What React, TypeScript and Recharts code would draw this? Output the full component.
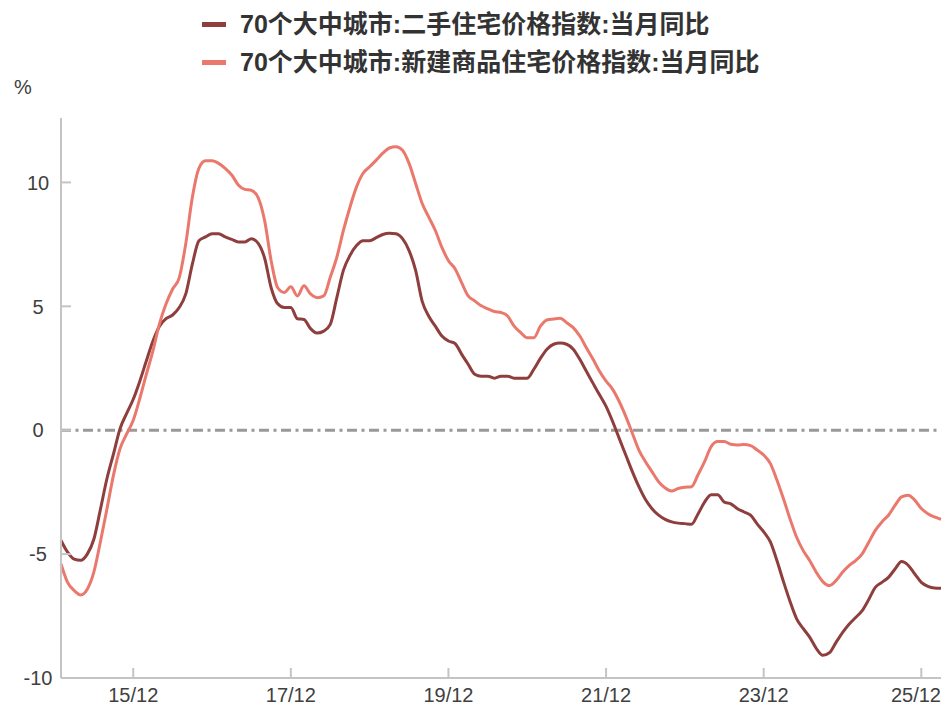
import React from "react";
import { Line, LineChart, ReferenceLine, XAxis, YAxis } from "recharts";

// 70城房价指数同比, 2015/01 - 2026/03, 月度
const months: string[] = Array.from({ length: 135 }, (_, i) => {
  const yy = 15 + Math.floor(i / 12);
  const mm = (i % 12) + 1;
  return `${yy}/${mm < 10 ? "0" + mm : mm}`;
});

const xTicks = ["15/12", "17/12", "19/12", "21/12", "23/12", "25/12"];
const yTicks = [-10, -5, 0, 5, 10];

const secondHand = [
  -4.45, -4.92, -5.2, -5.25, -5.0, -4.4, -3.2, -1.95, -0.95, 0.07, 0.68, 1.25,
  1.98, 2.8, 3.6, 4.2, 4.5, 4.65, 4.95, 5.5, 6.7, 7.65, 7.8, 7.93,
  7.93, 7.8, 7.7, 7.6, 7.6, 7.73, 7.55, 6.95, 5.75, 5.1, 4.95, 4.95,
  4.5, 4.47, 4.1, 3.92, 4.0, 4.27, 5.35, 6.45, 7.05, 7.45, 7.65, 7.65,
  7.77, 7.9, 7.95, 7.93, 7.73, 7.25, 6.45, 5.2, 4.6, 4.2, 3.8, 3.6,
  3.5, 3.07, 2.66, 2.26, 2.18, 2.18, 2.1, 2.18, 2.18, 2.1, 2.1, 2.1,
  2.46, 2.9, 3.27, 3.47, 3.52, 3.47, 3.27, 2.86, 2.38, 1.9, 1.43, 0.96,
  0.35, -0.33, -1.0, -1.67, -2.28, -2.8, -3.17, -3.43, -3.6, -3.7, -3.75, -3.77,
  -3.8, -3.38, -2.9, -2.6, -2.6, -2.9, -2.97, -3.17, -3.3, -3.43, -3.78, -4.1,
  -4.5, -5.25, -6.1, -6.9, -7.6, -8.0, -8.35, -8.8, -9.08, -8.98, -8.57, -8.17,
  -7.83, -7.56, -7.28, -6.83, -6.34, -6.14, -5.94, -5.6, -5.3, -5.45, -5.8, -6.14,
  -6.3, -6.37, -6.38,
];

const newBuild = [
  -5.4, -6.14, -6.47, -6.65, -6.42, -5.73, -4.5, -3.17, -1.8, -0.74, -0.15, 0.4,
  1.28, 2.26, 3.2, 4.3, 5.1, 5.7, 6.15, 7.53, 9.4, 10.57, 10.87, 10.87,
  10.77, 10.57, 10.3, 9.9, 9.72, 9.68, 9.4, 8.47, 6.84, 5.75, 5.56, 5.79,
  5.42, 5.83, 5.5, 5.35, 5.42, 6.17, 6.98, 8.06, 9.0, 9.82, 10.37, 10.63,
  10.9, 11.18, 11.39, 11.44, 11.3, 10.77, 9.96, 9.15, 8.6, 8.06, 7.38, 6.84,
  6.52, 5.96, 5.42, 5.22, 5.02, 4.9, 4.79, 4.75, 4.61, 4.2, 3.94, 3.73,
  3.73, 4.2, 4.45, 4.49, 4.52, 4.34, 4.14, 3.8, 3.33, 2.87, 2.38, 1.98,
  1.65, 1.16, 0.56, -0.12, -0.8, -1.27, -1.68, -2.08, -2.33, -2.45, -2.35, -2.3,
  -2.28, -1.8, -1.27, -0.66, -0.46, -0.46, -0.57, -0.6, -0.58, -0.62, -0.8, -1.0,
  -1.34, -2.0, -2.76, -3.57, -4.31, -4.85, -5.26, -5.73, -6.11, -6.27, -6.07, -5.73,
  -5.46, -5.26, -4.99, -4.52, -4.04, -3.7, -3.43, -3.03, -2.69, -2.62, -2.82, -3.16,
  -3.37, -3.5, -3.6,
];

const SERIES = [
  { key: "secondHand", name: "70个大中城市:二手住宅价格指数:当月同比", color: "#8e3f3d" },
  { key: "newBuild", name: "70个大中城市:新建商品住宅价格指数:当月同比", color: "#ea786d" },
];

const data = months.map((month, i) => ({
  month,
  secondHand: secondHand[i],
  newBuild: newBuild[i],
}));

const WIDTH = 943;
const HEIGHT = 706;
const PLOT_LEFT = 61;
const PLOT_TOP = 118;
const X_AXIS_HEIGHT = 28;
const PLOT_BOTTOM = HEIGHT - X_AXIS_HEIGHT;
const AXIS_COLOR = "#c4c4c4";
const TEXT_COLOR = "#404040";
const TICK_FONT = "'Liberation Sans', Arial, sans-serif";

function XTick({ x, payload }: any) {
  // keep the last label inside the frame
  const nearEdge = x + 25 > WIDTH - 1;
  return (
    <g>
      <line x1={x} x2={x} y1={PLOT_BOTTOM} y2={PLOT_BOTTOM - 10} stroke={AXIS_COLOR} strokeWidth={2} />
      <text
        x={nearEdge ? WIDTH - 2 : x}
        y={702}
        textAnchor={nearEdge ? "end" : "middle"}
        fontSize={20}
        fontFamily={TICK_FONT}
        fill={TEXT_COLOR}
      >
        {payload.value}
      </text>
    </g>
  );
}

function YTick({ y, payload }: any) {
  return (
    <g>
      <line x1={PLOT_LEFT} x2={PLOT_LEFT + 10} y1={y} y2={y} stroke={AXIS_COLOR} strokeWidth={2} />
      <text x={38} y={y} dy="0.36em" textAnchor="middle" fontSize={20} fontFamily={TICK_FONT} fill={TEXT_COLOR}>
        {payload.value}
      </text>
    </g>
  );
}

function LegendRows() {
  return (
    <>
      {SERIES.map((s, i) => (
        <div key={s.key} style={{ position: "absolute", left: 0, top: 4 + i * 38, width: WIDTH, height: 40 }}>
          <div style={{ position: "absolute", left: 202, top: 18, width: 24, height: 5, background: s.color }} />
          <span
            style={{
              position: "absolute",
              left: 240,
              top: 0,
              lineHeight: "40px",
              whiteSpace: "nowrap",
              fontFamily: "'Liberation Sans', 'Noto Sans CJK SC', sans-serif",
              fontWeight: 700,
              fontSize: 25,
              color: "#333",
            }}
          >
            {s.name}
          </span>
        </div>
      ))}
    </>
  );
}

export default function App() {
  return (
    <div style={{ position: "absolute", left: 0, top: 0, width: WIDTH, height: HEIGHT, background: "#fff" }}>
      <LegendRows />
      <div
        style={{
          position: "absolute",
          left: 14,
          top: 76,
          fontFamily: TICK_FONT,
          fontSize: 20,
          color: TEXT_COLOR,
        }}
      >
        %
      </div>
      <LineChart
        width={WIDTH}
        height={HEIGHT}
        data={data}
        margin={{ top: PLOT_TOP, right: 2, bottom: 0, left: 0 }}
      >
        <XAxis
          dataKey="month"
          ticks={xTicks}
          interval={0}
          height={X_AXIS_HEIGHT}
          tickLine={false}
          axisLine={{ stroke: AXIS_COLOR, strokeWidth: 2 }}
          tick={(props: any) => <XTick {...props} />}
        />
        <YAxis
          type="number"
          domain={[-10, 12.6]}
          ticks={yTicks}
          width={PLOT_LEFT}
          tickLine={false}
          axisLine={{ stroke: AXIS_COLOR, strokeWidth: 2 }}
          tick={(props: any) => <YTick {...props} />}
        />
        <ReferenceLine y={0} stroke="#999" strokeWidth={3} strokeDasharray="10 4.5 3 4.5" />
        {SERIES.map((s) => (
          <Line
            key={s.key}
            type="monotone"
            dataKey={s.key}
            name={s.name}
            stroke={s.color}
            strokeWidth={3}
            dot={false}
            isAnimationActive={false}
          />
        ))}
      </LineChart>
    </div>
  );
}
